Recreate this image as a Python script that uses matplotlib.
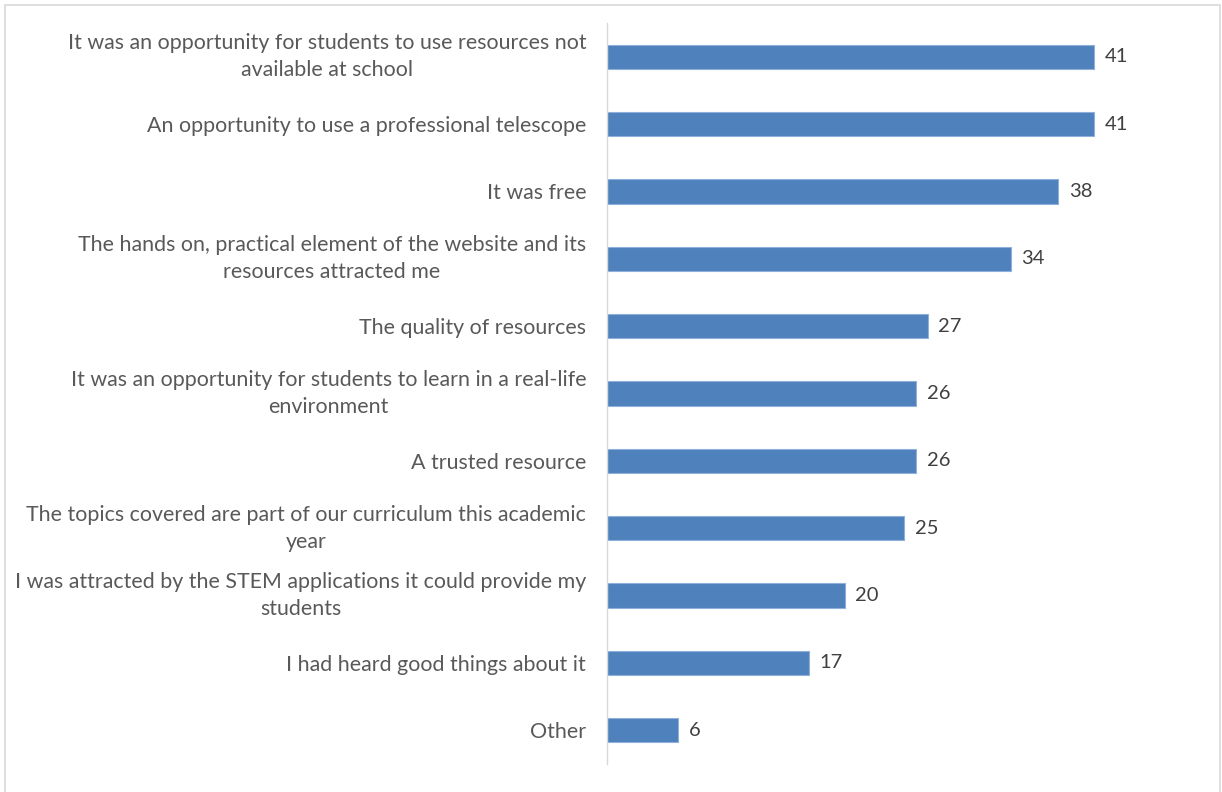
import matplotlib.pyplot as plt
from matplotlib.patches import Rectangle

categories = [
    "It was an opportunity for students to use resources not\navailable at school",
    "An opportunity to use a professional telescope",
    "It was free",
    "The hands on, practical element of the website and its\nresources attracted me",
    "The quality of resources",
    "It was an opportunity for students to learn in a real-life\nenvironment",
    "A trusted resource",
    "The topics covered are part of our curriculum this academic\nyear",
    "I was attracted by the STEM applications it could provide my\nstudents",
    "I had heard good things about it",
    "Other",
]
counts = [41, 41, 38, 34, 27, 26, 26, 25, 20, 17, 6]

W, H = 1222, 792
fig = plt.figure(figsize=(W / 100, H / 100), dpi=100)

# light chart-area border
fig.patches.append(Rectangle((5 / W, -0.01), 1215 / W, 1 - 5 / H + 0.01,
                             transform=fig.transFigure, fill=False,
                             edgecolor="#D9D9D9", linewidth=1.2))

ax = fig.add_axes([607 / W, 1 - 764 / H, 594 / W, 741 / H])

y = list(range(len(categories)))
ax.barh(y, counts, height=0.36, color="#4F81BD", edgecolor="#8EB0DA",
        linewidth=0.8)
ax.set_xlim(0, 50)
ax.set_ylim(len(categories) - 0.5, -0.5)

for yi, v in zip(y, counts):
    ax.text(v + 0.9, yi, str(v), va="center", ha="left", fontsize=14.5,
            color="#404040", family="Lato")

ax.set_yticks(y)
labels = ax.set_yticklabels(categories, fontsize=15.4, color="#595959",
                            family="Lato", multialignment="center",
                            linespacing=1.45)
for lab in labels:
    if "\n" in lab.get_text():
        lab.set_va("center")
ax.tick_params(axis="y", length=0, pad=15)
ax.set_xticks([])

for s in ["top", "right", "bottom"]:
    ax.spines[s].set_visible(False)
ax.spines["left"].set_color("#D9D9D9")
ax.spines["left"].set_linewidth(1)

fig.savefig("out.png", dpi=100)
